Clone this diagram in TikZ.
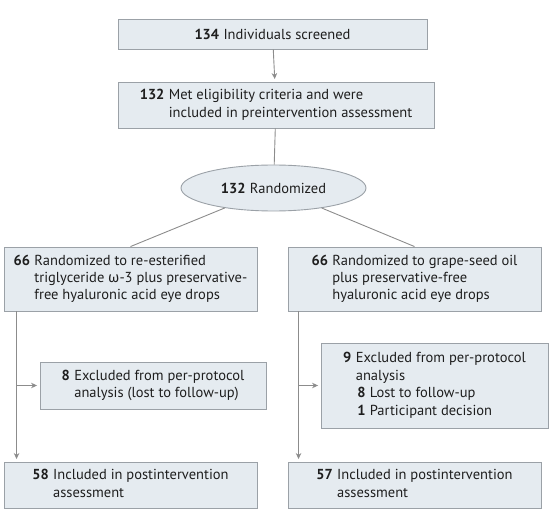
\documentclass[tikz,border=0pt]{standalone}
\usepackage{fontspec}
\setmainfont{PT Sans}
\newfontfamily\grkfont{Fira Sans}
\usetikzlibrary{shapes.geometric,arrows.meta,calc}
\definecolor{boxfill}{HTML}{E5EBF0}
\definecolor{boxline}{HTML}{9BA1A7}
\definecolor{conn}{HTML}{8C8C8C}
\definecolor{txt}{HTML}{1E1E1E}
\tikzset{
  fbox/.style={draw=boxline, fill=boxfill, line width=0.9pt, inner sep=0pt, text=txt,
    font=\fontsize{14.5}{17.5}\selectfont, align=center},
  fell/.style={fbox, ellipse},
  conline/.style={draw=conn, line width=0.9pt},
  arr/.style={conline, -{Stealth[length=6pt,width=5.5pt]}, shorten >=2.5pt},
}
\newcommand{\nm}[1]{\textbf{#1}\hspace{0.3em}}
\begin{document}
\begin{tikzpicture}[x=1pt,y=-1pt]
\useasboundingbox (0,0) rectangle (554,521);
\node[fbox, minimum width=309pt, minimum height=30pt] (b1) at (272.5,34) {\nm{134}Individuals screened};
\node[fbox, minimum width=316pt, minimum height=46pt] (b2) at (276,105)
  {\begin{tabular}{@{}l@{\hspace{0.3em}}l@{}}\textbf{132} & Met eligibility criteria and were\\ & included in preintervention assessment\end{tabular}};
\node[fell, minimum width=185pt, minimum height=46pt] (ell) at (273.5,188) {\nm{132}Randomized};
\node[fbox, minimum width=253pt, minimum height=64pt] (L1) at (130.5,279)
  {\begin{tabular}{@{}l@{\hspace{0.3em}}l@{}}\textbf{66} & Randomized to re-esterified\\ & triglyceride {\grkfont ω}-3 plus preservative-\\ & free hyaluronic acid eye drops\end{tabular}};
\node[fbox, minimum width=253pt, minimum height=64pt] (R1) at (414.5,279)
  {\begin{tabular}{@{}l@{\hspace{0.3em}}l@{}}\textbf{66} & Randomized to grape-seed oil\\ & plus preservative-free\\ & hyaluronic acid eye drops\end{tabular}};
\node[fbox, minimum width=226pt, minimum height=47pt] (L2) at (153,385.5)
  {\begin{tabular}{@{}l@{\hspace{0.3em}}l@{}}\textbf{8} & Excluded from per-protocol\\ & analysis (lost to follow-up)\end{tabular}};
\node[fbox, minimum width=227pt, minimum height=85pt] (R2) at (434.5,385.5)
  {\begin{tabular}{@{}l@{\hspace{0.3em}}l@{}}\textbf{9} & Excluded from per-protocol\\ & analysis\\ & \hspace{1.5pt}\nm{8}Lost to follow-up\\ & \hspace{1.5pt}\nm{1}Participant decision\end{tabular}};
\node[fbox, minimum width=253pt, minimum height=46pt] (L3) at (130.5,485)
  {\begin{tabular}{@{}l@{\hspace{0.3em}}l@{}}\textbf{58} & Included in postintervention\\ & assessment\end{tabular}};
\node[fbox, minimum width=253pt, minimum height=46pt] (R3) at (414.5,485)
  {\begin{tabular}{@{}l@{\hspace{0.3em}}l@{}}\textbf{57} & Included in postintervention\\ & assessment\end{tabular}};
\draw[arr] (b1) -- (b2);
\draw[conline] (b2) -- (ell);
\draw[conline] (ell) -- (L1.north);
\draw[conline] (ell) -- (R1.north);
\coordinate (lv) at ([xshift=13pt]L1.south west);
\coordinate (rv) at ([xshift=11pt]R1.south west);
\draw[arr] (lv) -- (lv |- L3.north);
\draw[arr] (rv) -- (rv |- R3.north);
\draw[arr] (lv |- L2.west) -- (L2.west);
\draw[arr] (rv |- R2.west) -- (R2.west);
\end{tikzpicture}
\end{document}
